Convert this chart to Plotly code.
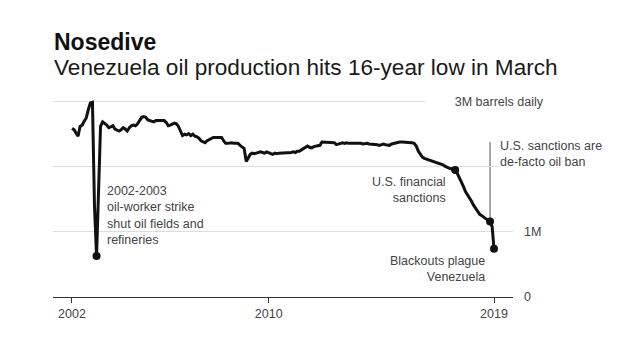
import pandas as pd
import plotly.graph_objects as go

# ---- data (million barrels per day, monthly) ----
start_month = "2002-01-01"
production = [
    # 2002
    2.59, 2.57, 2.52, 2.47, 2.62, 2.64, 2.70, 2.75, 2.88, 2.98, 2.99, 1.40,
    # 2003
    0.63, 1.75, 2.62, 2.69, 2.67, 2.64, 2.60, 2.62, 2.63, 2.58, 2.56, 2.55,
    # 2004
    2.57, 2.60, 2.58, 2.55, 2.60, 2.63, 2.64, 2.63, 2.66, 2.72, 2.76, 2.77,
    # 2005
    2.76, 2.72, 2.71, 2.70, 2.69, 2.71, 2.71, 2.72, 2.71, 2.71, 2.68, 2.63,
    # 2006
    2.64, 2.66, 2.67, 2.66, 2.62, 2.55, 2.48, 2.50, 2.49, 2.51, 2.48, 2.50,
    # 2007
    2.47, 2.46, 2.44, 2.40, 2.38, 2.37, 2.40, 2.42, 2.44, 2.45, 2.45, 2.45,
    # 2008
    2.45, 2.45, 2.40, 2.36, 2.36, 2.37, 2.37, 2.36, 2.36, 2.36, 2.33, 2.31,
    # 2009
    2.28, 2.08, 2.14, 2.19, 2.21, 2.20, 2.21, 2.22, 2.23, 2.22, 2.21, 2.23,
    # 2010
    2.22, 2.20, 2.19, 2.21, 2.20, 2.21, 2.21, 2.22, 2.21, 2.22, 2.21, 2.22,
    # 2011
    2.23, 2.22, 2.24, 2.24, 2.26, 2.28, 2.29, 2.32, 2.30, 2.29, 2.31, 2.32,
    # 2012
    2.32, 2.33, 2.38, 2.38, 2.38, 2.37, 2.38, 2.38, 2.37, 2.34, 2.35, 2.36,
    # 2013
    2.37, 2.36, 2.37, 2.36, 2.36, 2.37, 2.36, 2.36, 2.37, 2.36, 2.35, 2.36,
    # 2014
    2.36, 2.35, 2.35, 2.34, 2.35, 2.34, 2.33, 2.34, 2.35, 2.34, 2.34, 2.33,
    # 2015
    2.35, 2.36, 2.36, 2.38, 2.38, 2.38, 2.38, 2.38, 2.38, 2.38, 2.37, 2.36,
    # 2016
    2.32, 2.24, 2.19, 2.15, 2.13, 2.12, 2.11, 2.10, 2.09, 2.08, 2.06, 2.05,
    # 2017
    2.04, 2.03, 2.01, 1.99, 1.98, 1.97, 1.96, 1.95, 1.90, 1.84, 1.77, 1.70,
    # 2018
    1.62, 1.57, 1.53, 1.47, 1.41, 1.36, 1.32, 1.27, 1.25, 1.22, 1.20, 1.18,
    # 2019
    1.16, 1.08, 0.74,
]
months = pd.date_range(start_month, periods=len(production), freq="MS")

# highlighted events (month strings)
event_months = ["2003-01-01", "2017-08-01", "2019-01-01", "2019-03-01"]
sanction_month = "2019-01-01"
sanction_leader_top = 2.38

tick_dates = ["2002-01-01", "2010-01-01", "2019-03-01"]
tick_labels = ["2002", "2010", "2019"]
y_ticks = [0, 1, 2, 3]
y_tick_labels = ["0", "1M", "", ""]

FONT = "Liberation Sans, Arial, sans-serif"
TXT = "#444444"

series = pd.Series(production, index=months)
ev_x = pd.to_datetime(event_months)
ev_y = [series[d] for d in ev_x]

fig = go.Figure()
fig.add_trace(go.Scatter(
    x=months, y=production, mode="lines",
    line=dict(color="#111111", width=3), hoverinfo="skip", showlegend=False,
))
fig.add_trace(go.Scatter(
    x=ev_x, y=ev_y, mode="markers",
    marker=dict(color="#111111", size=8), hoverinfo="skip", showlegend=False,
))

# leader line for U.S. sanctions
sx = pd.Timestamp(sanction_month)
fig.add_shape(type="line", xref="x", yref="y",
              x0=sx, x1=sx, y0=series[sx], y1=sanction_leader_top,
              line=dict(color="#555555", width=1), layer="below")

ann = dict(showarrow=False, font=dict(family=FONT, size=12.5, color=TXT))
fig.add_annotation(x="2003-05-01", y=1.25, xref="x", yref="y", xanchor="left", yanchor="middle",
                   align="left",
                   text="2002-2003<br>oil-worker strike<br>shut oil fields and<br>refineries", **ann)
fig.add_annotation(x="2017-04-10", y=1.64, xref="x", yref="y", xanchor="right", yanchor="middle",
                   align="right", text="U.S. financial<br>sanctions", **ann)
fig.add_annotation(x="2018-11-10", y=0.43, xref="x", yref="y", xanchor="right", yanchor="middle",
                   align="right", text="Blackouts plague<br>Venezuela", **ann)
fig.add_annotation(x="2019-05-01", y=2.19, xref="x", yref="y", xanchor="left", yanchor="middle",
                   align="left", bgcolor="white",
                   text="U.S. sanctions are<br>de-facto oil ban", **ann)
fig.add_annotation(x="2016-05-10", y=3.0, xref="x", yref="y", xanchor="left", yanchor="middle",
                   align="left", bgcolor="white",
                   text="\u00a0" * 8 + "3M barrels daily", **ann)

# titles
fig.add_annotation(x=51.5, y=42, xref="paper", yref="paper", showarrow=False,
                   text="<b>Nosedive</b>", font=dict(family=FONT, size=23, color="#111111"),
                   xanchor="left", yanchor="middle")
fig.add_annotation(x=51.5, y=67.5, xref="paper", yref="paper", showarrow=False,
                   text="Venezuela oil production hits 16-year low in March",
                   font=dict(family=FONT, size=22.6, color="#1a1a1a"),
                   xanchor="left", yanchor="middle")

W, H = 640, 338
L, R, T, B = 53, 126.7, 95, 41.3
pw, ph = W - L - R, H - T - B
# convert title pixel positions to paper coords
for a in fig.layout.annotations[-2:]:
    a.x = (a.x - L) / pw
    a.y = (H - B - a.y) / ph

fig.update_layout(
    width=W, height=H,
    margin=dict(l=L, r=R, t=T, b=B, pad=0),
    paper_bgcolor="white", plot_bgcolor="white",
    font=dict(family=FONT, size=12.5, color=TXT),
    xaxis=dict(
        type="date", range=["2001-03-25", "2019-12-08"],
        tickvals=pd.to_datetime(tick_dates), ticktext=tick_labels,
        showline=True, linecolor="#333333", linewidth=1,
        ticks="outside", ticklen=5, tickcolor="#333333", tickwidth=1,
        showgrid=False, zeroline=False,
        tickfont=dict(family=FONT, size=12.5, color=TXT),
    ),
    yaxis=dict(
        range=[0, 3.103], side="right",
        tickvals=y_ticks, ticktext=y_tick_labels,
        showgrid=True, gridcolor="#dddddd", gridwidth=1,
        zeroline=False, showline=False, ticks="",
        ticklabelstandoff=10,
        tickfont=dict(family=FONT, size=12.5, color=TXT),
    ),
    showlegend=False,
)

fig.write_html("out.html")
